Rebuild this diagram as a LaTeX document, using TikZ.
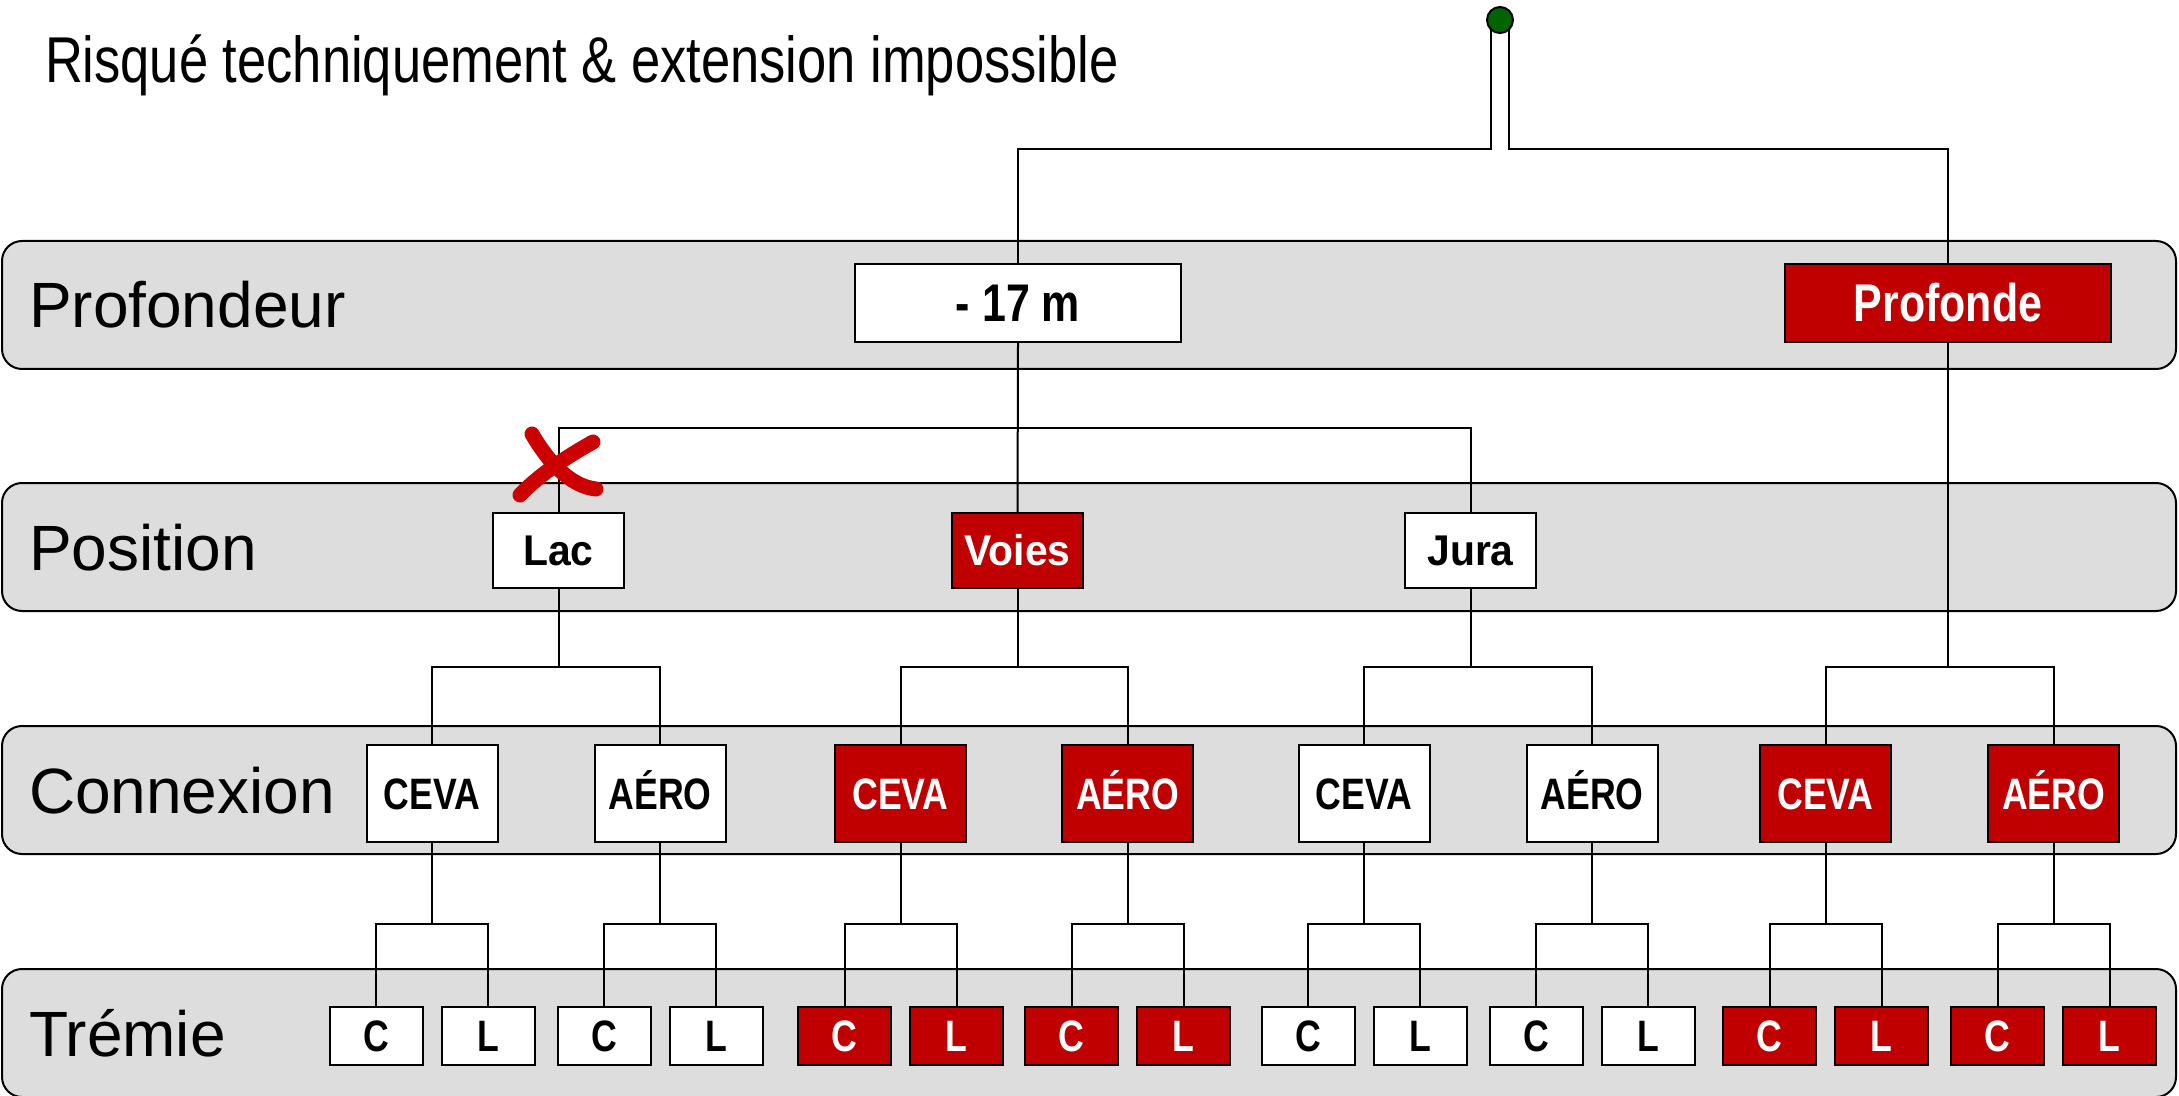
\documentclass[tikz,border=0pt]{standalone}
\usepackage{fontspec}
\setmainfont{Liberation Sans}
\newfontfamily\narrowfont[FakeStretch=0.81]{Liberation Sans}
\newfontfamily\posfont[FakeStretch=0.95]{Liberation Sans}
\definecolor{boxred}{RGB}{192,0,0}
\definecolor{bandgray}{RGB}{221,221,221}
\definecolor{xred}{RGB}{204,0,0}
\definecolor{dotgreen}{RGB}{0,100,0}
\tikzset{
 band/.style={draw,fill=bandgray,rounded corners=10pt},
 bandlabel/.style={anchor=base west,inner sep=0,font=\fontsize{32}{38}\selectfont},
 nbox/.style={draw,inner sep=0,text height=15.75pt,text depth=0pt,
  font=\narrowfont\bfseries\fontsize{22}{26}\selectfont},
 bigbox/.style={nbox,minimum width=163pt,minimum height=39pt,text height=19pt,
  font=\narrowfont\bfseries\fontsize{26.5}{30}\selectfont},
 posbox/.style={nbox,minimum width=65.5pt,minimum height=37.5pt,
  font=\posfont\bfseries\fontsize{21.5}{26}\selectfont,text height=15.4pt},
 conbox/.style={nbox,minimum width=65.5pt,minimum height=48.5pt},
 trembox/.style={nbox,minimum width=46.5pt,minimum height=29pt},
 dot/.style={circle,draw,fill=dotgreen,minimum size=13pt,inner sep=0}
}
\begin{document}
\begin{tikzpicture}[x=.5pt,y=-.5pt,line width=1pt,line join=miter]
 \useasboundingbox (0,0) rectangle (2179,1096);
 % bands
 \foreach \y/\lab [count=\i] in {241/Profondeur,483/Position,726/Connexion,969/Trémie}{
  \draw[band] (2,\y) rectangle (2176,\y+128);
  \node[bandlabel] (lb\i) at (28,\y+87) {\lab};
 }
 \node[anchor=base west,inner sep=0,font=\narrowfont\fontsize{32.4}{38}\selectfont]
  (title) at (44,83) {Risqué techniquement \& extension impossible};
 % profondeur
 \node[bigbox,fill=white] (prof17) at (1018,303) {- 17 m};
 \node[bigbox,fill=boxred,text=white] (profonde) at (1948,303) {Profonde};
 % position
 \node[posbox,fill=white] (lac) at (558.5,550.5) {Lac};
 \node[posbox,fill=boxred,text=white] (voies) at (1017.5,550.5) {Voies};
 \node[posbox,fill=white] (jura) at (1470.5,550.5) {Jura};
 % connexion and tremie
 \foreach \cx/\lab/\fc/\tc [count=\i] in {432/CEVA/white/black,660/AÉRO/white/black,
   900.5/CEVA/boxred/white,1127.7/AÉRO/boxred/white,1364/CEVA/white/black,
   1592/AÉRO/white/black,1825.5/CEVA/boxred/white,2053.5/AÉRO/boxred/white}{
  \node[conbox,fill=\fc,text=\tc] (cx\i) at (\cx,793.5) {\lab};
  \node[trembox,fill=\fc,text=\tc] (t\i c) at (\cx-56,1036) {C};
  \node[trembox,fill=\fc,text=\tc] (t\i l) at (\cx+56,1036) {L};
  \draw (cx\i.south) -- (cx\i.south |- 0,924);
  \draw (t\i c.north) |- (cx\i.south |- 0,924) -| (t\i l.north);
 }
 \foreach \p/\a/\b in {lac/1/2,voies/3/4,jura/5/6,profonde/7/8}{
  \draw (\p.south) -- (\p.south |- 0,667);
  \draw (cx\a.north) |- (\p.south |- 0,667) -| (cx\b.north);
 }
 \draw (prof17.south) -- (voies.north);
 \draw (lac.north) |- (prof17.south |- 0,428) -| (jura.north);
 % root
 \coordinate (root) at (1500,20);
 \draw ([xshift=-4.5pt]root) |- (prof17.north |- 0,149) -- (prof17.north);
 \draw ([xshift=4.5pt]root) |- (profonde.north |- 0,149) -- (profonde.north);
 \node[dot] (rootdot) at (root) {};
 % cross on lac
 \draw[xred,line width=7.5pt,line cap=round]
  (532,434) .. controls (546,458) and (568,486) .. (596,489)
  (593,442) .. controls (568,456) and (540,474) .. (520,495);
\end{tikzpicture}
\end{document}
